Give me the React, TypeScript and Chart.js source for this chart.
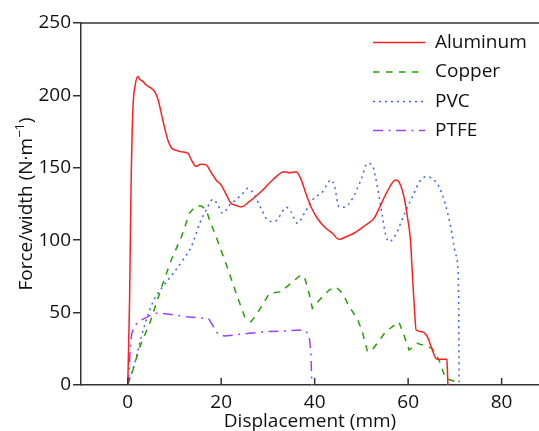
import React, { useEffect, useRef } from 'react';
import { Chart, registerables } from 'chart.js';

Chart.register(...registerables);

const aluminumX = [0, 0.4, 0.7, 1.1, 1.6, 2.2, 2.6, 3.1, 4.0, 5.0, 5.8, 6.5, 7.5, 8.6, 9.3, 10.4, 11.5, 12.9, 13.6, 14.6, 15.6, 16.8, 17.8, 18.9, 20.0, 21.0, 22.1, 23.2, 24.3, 26.0, 28.9, 31.0, 33.5, 34.6, 36.0, 37.0, 38.1, 39.2, 40.6, 42.4, 43.8, 45.2, 46.7, 48.4, 50.9, 52.7, 53.8, 55.5, 57.3, 58.0, 59.1, 59.8, 60.5, 60.9, 61.4, 61.7, 63.0, 64.1, 64.8, 66.2, 68.3, 68.4, 68.5];
const aluminumY = [0, 60, 135, 190, 207, 213, 211, 210, 207, 205, 202.5, 197, 183, 169, 164, 162, 161, 160, 155.5, 151, 152.5, 152, 147, 141.6, 138, 132, 125.5, 124, 123, 126.6, 134.7, 141.6, 147.3, 146.6, 147.3, 142.7, 132.4, 123.1, 115, 108.2, 104.8, 100.6, 102.4, 104.8, 110.5, 115.1, 122, 133.5, 141.6, 140.4, 130, 117, 100, 77, 49.5, 38, 36.8, 33.4, 27.6, 17.7, 17.7, 10, 0];

const copperX = [0, 1.1, 2.6, 4.7, 7.5, 9.3, 11.5, 13.2, 14.5, 15.8, 16.8, 17.5, 18.9, 21.0, 23.2, 25.0, 26.4, 28.2, 30.3, 32.8, 34.9, 37.0, 37.8, 38.8, 39.5, 41.0, 43.1, 44.5, 46.0, 47.4, 49.1, 50.2, 51.3, 52.3, 55.2, 58.0, 59.1, 60.2, 61.9, 63.7, 65.1, 66.6, 68.0, 70.1, 70.5];
const copperY = [0, 10.4, 26.5, 42.6, 70, 86.3, 102.4, 118.6, 123.6, 123.6, 120.9, 114, 102.4, 84, 63.3, 47.2, 43.7, 52, 63.3, 64.4, 70.2, 76, 74.8, 63.3, 53, 58.7, 65.6, 67.9, 63.3, 54, 46, 36.8, 23, 24.2, 36.8, 43.7, 34.5, 24.2, 28.8, 27, 25.3, 17.3, 4.6, 2.3, 0];

const pvcX = [0, 1.5, 2.9, 4.7, 5.8, 7.5, 9.7, 11.8, 13.6, 15.4, 16.8, 18.2, 19.3, 20.3, 21.8, 23.5, 25.0, 25.7, 27.1, 28.5, 29.9, 31.4, 32.4, 33.9, 34.9, 36.3, 37.8, 39.5, 41.7, 43.5, 44.2, 45.2, 46.3, 48.1, 49.9, 51.3, 52.3, 53.0, 53.8, 54.5, 55.2, 55.9, 57.3, 59.1, 60.9, 62.7, 64.1, 65.9, 66.6, 67.9, 69.1, 70.1, 70.7, 70.8, 70.9];
const pvcY = [0, 15, 33.4, 51.8, 60, 67.9, 77, 86.3, 95.5, 111.7, 120.9, 128.2, 124.3, 118.6, 124.3, 128.9, 133.5, 135.8, 131.2, 122, 114, 112.8, 116.2, 122.7, 119.7, 111.7, 118.6, 127.8, 133.5, 141.6, 138, 123.1, 122.7, 128.9, 141.6, 153, 152, 143.9, 130, 116.2, 103.6, 99, 103.6, 117.4, 130, 141.6, 143.9, 140.4, 137, 125.5, 109.3, 91, 77, 58.7, 0];

const ptfeX = [0, 0.3, 0.6, 0.9, 1.6, 2.9, 5.0, 6.5, 12.5, 17.3, 19.3, 20.7, 26.0, 29.6, 34.6, 37.8, 38.8, 39.2, 39.4];
const ptfeY = [0, 10, 28.8, 36, 41.5, 44.9, 48.3, 49.9, 47.2, 45.8, 35.2, 33.8, 35.7, 36.8, 37.5, 38, 34.5, 21.9, 0];

const seriesLabels = ['Aluminum', 'Copper', 'PVC', 'PTFE'];
const xTicks = [0, 20, 40, 60, 80];
const yTicks = [0, 50, 100, 150, 200, 250];

const FONT = '"Open Sans", sans-serif';
const AXIS = '#333333';
const TEXT = '#111111';

export default function App() {
  const ref = useRef<HTMLCanvasElement>(null);

  useEffect(() => {
    const pts = (xs: number[], ys: number[]) => xs.map((x, i) => ({ x, y: ys[i] }));
    const common = { showLine: true, pointRadius: 0, borderWidth: 1.5, fill: false, tension: 0 };

    const framePlugin = {
      id: 'frame',
      afterDraw(chart: any) {
        const { ctx, chartArea } = chart;
        const xs = chart.scales.x;
        ctx.save();
        ctx.strokeStyle = AXIS;
        ctx.lineWidth = 1.5;
        ctx.setLineDash([]);
        ctx.beginPath();
        ctx.moveTo(chartArea.left, chartArea.top);
        ctx.lineTo(chartArea.right, chartArea.top);
        ctx.stroke();
        for (const t of xs.ticks) {
          const px = xs.getPixelForValue(t.value);
          ctx.beginPath();
          ctx.moveTo(px, chartArea.bottom);
          ctx.lineTo(px, chartArea.bottom - 7);
          ctx.stroke();
        }
        // y axis title with superscript, centred on the plot area
        ctx.translate(27, (chartArea.top + chartArea.bottom) / 2);
        ctx.rotate(-Math.PI / 2);
        ctx.fillStyle = TEXT;
        ctx.textBaseline = 'middle';
        ctx.textAlign = 'left';
        const main = 'Force/width (N\u00b7m';
        const sup = '\u22121';
        const end = ')';
        ctx.font = `19px ${FONT}`;
        const w1 = ctx.measureText(main).width;
        const w3 = ctx.measureText(end).width;
        ctx.font = `13px ${FONT}`;
        const w2 = ctx.measureText(sup).width;
        let x = -(w1 + w2 + w3) / 2;
        ctx.font = `19px ${FONT}`;
        ctx.fillText(main, x, 0);
        x += w1;
        ctx.font = `13px ${FONT}`;
        ctx.fillText(sup, x, -7);
        x += w2;
        ctx.font = `19px ${FONT}`;
        ctx.fillText(end, x, 0);
        ctx.restore();

        // legend
        ctx.save();
        const rows = [42.5, 72, 101.5, 130.5];
        chart.data.datasets.forEach((ds: any, i: number) => {
          const y = rows[i];
          ctx.strokeStyle = ds.borderColor;
          ctx.lineWidth = ds.borderWidth;
          ctx.setLineDash(ds.borderDash || []);
          ctx.beginPath();
          ctx.moveTo(373, y);
          ctx.lineTo(425, y);
          ctx.stroke();
          ctx.setLineDash([]);
          ctx.fillStyle = TEXT;
          ctx.font = `19px ${FONT}`;
          ctx.textBaseline = 'middle';
          ctx.textAlign = 'left';
          ctx.fillText(ds.label, 435, y);
        });
        ctx.restore();
      },
    };

    const chart = new Chart(ref.current as HTMLCanvasElement, {
      type: 'scatter',
      data: {
        datasets: [
          { ...common, label: seriesLabels[0], data: pts(aluminumX, aluminumY), borderColor: '#ff1f1f', borderDash: [], cubicInterpolationMode: 'monotone' },
          { ...common, label: seriesLabels[1], data: pts(copperX, copperY), borderColor: '#23a000', borderDash: [6.5, 6.5] },
          { ...common, label: seriesLabels[2], data: pts(pvcX, pvcY), borderColor: '#3d62ff', borderDash: [2, 4], cubicInterpolationMode: 'monotone' },
          { ...common, label: seriesLabels[3], data: pts(ptfeX, ptfeY), borderColor: '#a040ff', borderDash: [10, 5.5, 2, 5.5] },
        ],
      },
      options: {
        animation: false,
        responsive: false,
        maintainAspectRatio: false,
        layout: { padding: { top: 23, left: 0, right: 0, bottom: 0 } },
        plugins: { legend: { display: false }, tooltip: { enabled: false } },
        scales: {
          x: {
            type: 'linear',
            min: -10,
            max: 88,
            afterBuildTicks: (s: any) => { s.ticks = xTicks.map((v) => ({ value: v })); },
            afterFit: (s: any) => { s.height = 46; },
            grid: { drawOnChartArea: false, drawTicks: false },
            border: { display: true, color: AXIS, width: 1.5 },
            ticks: { font: { family: FONT, size: 19 }, color: TEXT, padding: 6, maxRotation: 0 },
            title: { display: true, text: 'Displacement (mm)', font: { family: FONT, size: 19, lineHeight: 1 }, color: TEXT, padding: 0 },
          },
          y: {
            type: 'linear',
            min: 0,
            max: 250,
            afterBuildTicks: (s: any) => { s.ticks = yTicks.map((v) => ({ value: v })); },
            afterFit: (s: any) => { s.width = 81; },
            grid: { drawOnChartArea: false, drawTicks: true, tickLength: 8, color: AXIS, lineWidth: 1.5 },
            border: { display: true, color: AXIS, width: 1.5 },
            ticks: { font: { family: FONT, size: 19 }, color: TEXT, padding: 2 },
          },
        },
      },
      plugins: [framePlugin],
    } as any);
    return () => chart.destroy();
  }, []);

  return (
    <div style={{ position: 'absolute', left: 0, top: 0, width: 539, height: 431 }}>
      <canvas ref={ref} width={539} height={431} style={{ display: 'block' }} />
    </div>
  );
}
